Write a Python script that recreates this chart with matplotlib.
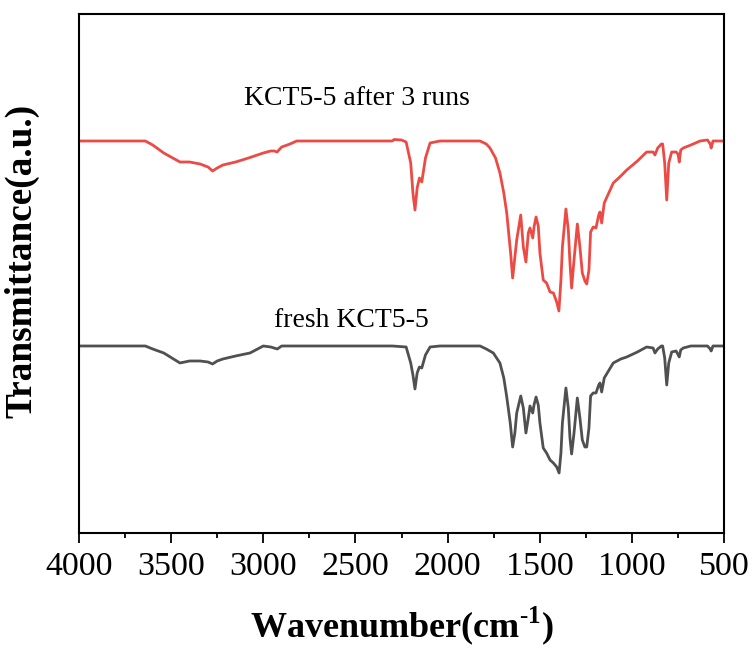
import matplotlib
matplotlib.use("Agg")
import matplotlib.pyplot as plt
from matplotlib.ticker import MultipleLocator

plt.rcParams['font.family'] = 'Liberation Serif'
plt.rcParams['mathtext.fontset'] = 'custom'
plt.rcParams['mathtext.rm'] = 'Liberation Serif'
plt.rcParams['mathtext.bf'] = 'Liberation Serif:bold'

# FTIR spectrum after 3 cycles (wavenumber in cm-1, transmittance in a.u.)
used_wn = [4000, 3640, 3600, 3540, 3452, 3400, 3343, 3300, 3275, 3250, 3219, 3150, 3080,
           3000, 2960, 2940, 2925, 2900, 2855, 2819, 2300, 2290, 2250, 2225, 2200, 2188,
           2177, 2165, 2153, 2140, 2120, 2095, 2041, 1824, 1790, 1770, 1740, 1716, 1695,
           1679, 1658, 1647, 1625, 1603, 1589, 1575, 1562, 1553, 1538, 1531, 1520, 1508,
           1499, 1481, 1463, 1444, 1426, 1408, 1396, 1385, 1377, 1358, 1345, 1336, 1327,
           1314, 1296, 1282, 1269, 1255, 1245, 1233, 1224, 1210, 1195, 1180, 1173, 1164,
           1150, 1101, 1060, 1028, 970, 920, 885, 875, 860, 840, 833, 822, 811, 800, 784,
           760, 750, 743, 735, 721, 680, 630, 590, 575, 570, 560, 500]
used_t = [392, 392, 388, 380, 371, 371, 369, 366, 362, 365, 368, 371, 375,
          380, 382, 382, 381, 386, 389, 392, 392, 393.5, 393, 391, 370, 340,
          323, 345, 355, 351, 375, 390, 392, 392, 389, 385, 375, 360, 340,
          320, 280, 255, 293, 318, 286, 271, 300, 305, 295, 306, 316, 307,
          280, 253, 250, 241, 240, 231, 222, 253, 286, 324, 303, 270, 245,
          273, 309, 286, 260, 252, 249, 263, 301, 306, 305, 318, 321, 310,
          330, 350, 357, 363, 372, 381, 381, 378, 385, 389, 389, 370, 333, 370, 381,
          381, 379, 371, 383, 385, 388, 392, 393, 389, 385, 392, 392]

# FTIR spectrum of the fresh catalyst
fresh_wn = [4000, 3640, 3600, 3540, 3452, 3400, 3343, 3300, 3275, 3250, 3219, 3150, 3072,
            3000, 2960, 2924, 2900, 2300, 2225, 2200, 2188, 2177, 2165, 2153, 2140, 2120,
            2095, 2041, 1824, 1790, 1752, 1716, 1695, 1679, 1660, 1647, 1635, 1625, 1603,
            1589, 1575, 1562, 1553, 1538, 1531, 1520, 1508, 1499, 1481, 1463, 1444, 1426,
            1408, 1395, 1385, 1377, 1358, 1345, 1336, 1327, 1314, 1296, 1282, 1269, 1255,
            1245, 1233, 1224, 1210, 1195, 1180, 1173, 1164, 1150, 1101, 1060, 1028, 970,
            920, 885, 875, 860, 840, 833, 822, 811, 800, 784, 760, 743, 735, 721, 680, 630,
            590, 575, 570, 560, 500]
fresh_t = [187, 187, 184, 180, 170, 172, 172, 171, 169, 172, 174, 177, 180,
           187, 186, 184, 187, 187, 186, 170, 158, 144, 160, 166, 165, 178,
           186, 187, 187, 184, 180, 170, 155, 136, 110, 86, 100, 120, 137,
           125, 100, 115, 127, 120, 128, 136, 128, 110, 85, 80, 73, 70,
           66, 60, 80, 110, 145, 125, 95, 79, 100, 135, 115, 93, 86,
           86, 105, 137, 140, 140, 148, 150, 141, 155, 170, 174, 176, 181,
           186, 185, 180, 184, 187, 187, 175, 148, 170, 181, 182, 176, 183, 185, 187, 187,
           187, 184, 182, 187, 187]

fig = plt.figure(figsize=(7.55, 6.48), dpi=100)
ax = fig.add_axes([0.1046, 0.1775, 0.8544, 0.8009])

ax.plot(used_wn, used_t, color='#ec4b45', lw=2.0)
ax.plot(fresh_wn, fresh_t, color='#505050', lw=2.0)

ax.text(2492, 434, 'KCT5-5 after 3 runs', fontsize=20, ha='center', va='center')
ax.text(2524, 212, 'fresh KCT5-5', fontsize=20, ha='center', va='center')

ax.set_xlim(4000, 500)
ax.set_ylim(0, 519)
ax.set_yticks([])
ax.xaxis.set_major_locator(MultipleLocator(500))
ax.xaxis.set_minor_locator(MultipleLocator(250))
ax.tick_params(axis='x', which='major', direction='out', length=7.2, width=1.3,
               labelsize=24.5, pad=6)
ax.tick_params(axis='x', which='minor', direction='out', length=3.6, width=1.3)
for s in ax.spines.values():
    s.set_linewidth(1.5)

ax.set_xlabel(r'Wavenumber(cm$^{\mathbf{\text{-}1}}$)', fontsize=26, fontweight='bold', labelpad=16)
ax.set_ylabel('Transmittance(a.u.)', fontsize=26.8, fontweight='bold')
ax.yaxis.set_label_coords(-0.062, 0.524)

plt.savefig('out.png', dpi=100)
